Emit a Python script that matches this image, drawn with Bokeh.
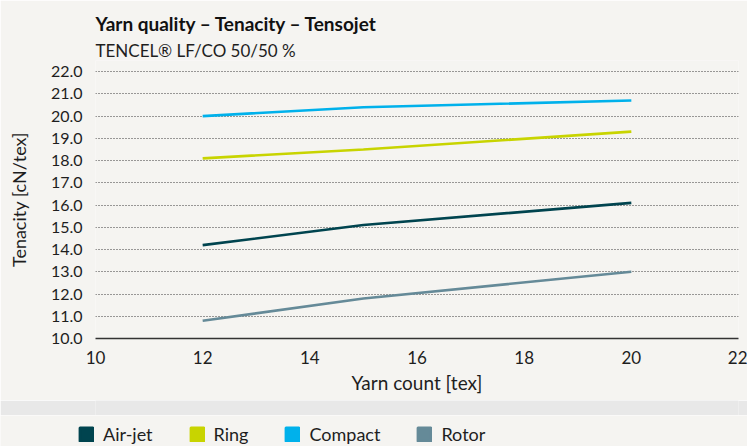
from bokeh.plotting import figure
from bokeh.models import FixedTicker, NumeralTickFormatter, Title, Legend, LegendItem
from bokeh.layouts import column, row
from bokeh.embed import file_html
from bokeh.resources import INLINE

# ---- data ----
yarn_count = [12, 15, 20]
air_jet = [14.2, 15.1, 16.1]
ring = [18.1, 18.5, 19.3]
compact = [20.0, 20.4, 20.7]
rotor = [10.8, 11.8, 13.0]

series_names = ["Air-jet", "Ring", "Compact", "Rotor"]
series_values = [air_jet, ring, compact, rotor]
series_colors = ["#00444f", "#c8d400", "#00b1eb", "#658a98"]

x_ticks = [10, 12, 14, 16, 18, 20, 22]
y_ticks = [10, 11, 12, 13, 14, 15, 16, 17, 18, 19, 20, 21, 22]

title_text = "Yarn quality \u2013 Tenacity \u2013 Tensojet"
subtitle_text = "TENCEL\u00ae LF/CO 50/50 %"
x_label = "Yarn count [tex]"
y_label = "Tenacity [cN/tex]"

FONT = "Lato"
BG = "#f5f4f1"
BAND = "#e8e8e8"
TXT = "#1e1e1e"

W = 747
BL, BR = 95, 9

# y view extends a little above the top tick so the subtitle sits just above the frame
p = figure(width=W, height=400, output_backend="svg", toolbar_location=None,
           x_range=(10, 22), y_range=(10, 22.5),
           min_border_left=BL, min_border_right=BR, min_border_top=60, min_border_bottom=62,
           background_fill_color=BG, border_fill_color=BG, outline_line_color=None)

for name, vals, col in zip(series_names, series_values, series_colors):
    p.line(yarn_count, vals, line_color=col, line_width=2.6)

# subtitle then title (later added goes further out)
p.add_layout(Title(text=subtitle_text, text_font=FONT, text_font_size="17px",
                   text_font_style="normal", text_color=TXT, align="left", standoff=0), "above")
p.add_layout(Title(text=title_text, text_font=FONT, text_font_size="19px",
                   text_font_style="bold", text_color="#111111", align="left", standoff=5), "above")

p.xaxis.ticker = FixedTicker(ticks=x_ticks)
p.yaxis.ticker = FixedTicker(ticks=y_ticks)
p.yaxis.formatter = NumeralTickFormatter(format="0.0")

for ax in (p.xaxis[0], p.yaxis[0]):
    ax.major_tick_line_color = None
    ax.minor_tick_line_color = None
    ax.major_tick_in = 0
    ax.major_tick_out = 0
    ax.minor_tick_in = 0
    ax.minor_tick_out = 0
    ax.major_label_text_font = FONT
    ax.major_label_text_color = TXT
    ax.axis_label_text_font = FONT
    ax.axis_label_text_font_style = "normal"
    ax.axis_label_text_color = TXT

p.xaxis.axis_line_color = "#333333"
p.xaxis.axis_line_width = 1.6
p.xaxis.major_label_text_font_size = "17px"
p.xaxis.major_label_standoff = 12
p.xaxis.axis_label = x_label
p.xaxis.axis_label_text_font_size = "19px"
p.xaxis.axis_label_standoff = 4

p.yaxis.axis_line_color = None
p.yaxis.major_label_text_font_size = "16px"
p.yaxis.major_label_standoff = 13
p.yaxis.axis_label = y_label
p.yaxis.axis_label_text_font_size = "18px"
p.yaxis.axis_label_standoff = 18

p.xgrid.grid_line_color = None
p.ygrid.grid_line_color = "#3a3a3a"
p.ygrid.grid_line_dash = "1 2"
p.ygrid.grid_line_width = 1.2

# gray band
band = figure(width=W, height=15, output_backend="svg", toolbar_location=None,
              x_axis_type=None, y_axis_type=None,
              min_border_left=BL, min_border_right=BR, min_border_top=0, min_border_bottom=0,
              background_fill_color=BAND, border_fill_color=BAND, outline_line_color=None)
band.xgrid.grid_line_color = None
band.ygrid.grid_line_color = None

# legend strip
leg = figure(width=W, height=31, output_backend="svg", toolbar_location=None,
             x_axis_type=None, y_axis_type=None,
             min_border_left=0, min_border_right=0, min_border_top=0, min_border_bottom=0,
             x_range=(0, 1), y_range=(0, 1),
             background_fill_color=BG, border_fill_color=BG, outline_line_color=None)
leg.xgrid.grid_line_color = None
leg.ygrid.grid_line_color = None
items = []
for name, col in zip(series_names, series_colors):
    # off-range dummy glyph, only used as legend swatch
    r = leg.quad(left=[-2], right=[-2], top=[-2], bottom=[-2], fill_color=col, line_color=col,
                 line_width=3, line_join="round")
    items.append(LegendItem(label=name, renderers=[r]))
legend = Legend(items=items, orientation="horizontal", location=(78, 1),
                glyph_width=16, glyph_height=16, label_height=16, label_standoff=9,
                spacing=36, padding=0, margin=0,
                label_text_font=FONT, label_text_font_size="18px", label_text_color=TXT,
                background_fill_alpha=0, border_line_color=None)
leg.add_layout(legend)

layout = column(p, band, row(leg), spacing=0)

open("out.html", "w").write(file_html(layout, INLINE))
